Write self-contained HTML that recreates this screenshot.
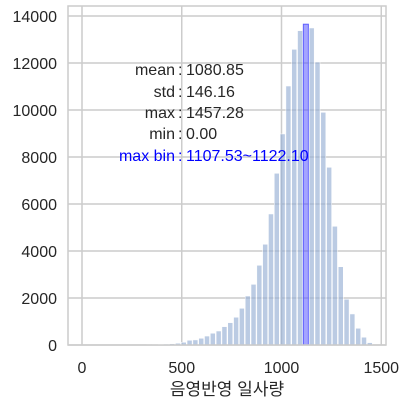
<!DOCTYPE html>
<html><head><meta charset="utf-8"><style>
html,body{margin:0;padding:0;background:#fff;}
svg text{font-family:"Liberation Sans","Noto Sans CJK KR",sans-serif;}
</style></head><body>
<svg id="chart" width="407" height="407" xmlns="http://www.w3.org/2000/svg"></svg>
<script>
const binWidth = 29.1456;
const counts = [1,1,2,2,3,3,4,5,6,8,10,14,20,30,40,55,75,115,200,215,285,380,500,595,780,950,1180,1560,2085,2580,3390,4285,5575,7305,8980,11020,12580,13375,13650,13490,12040,9900,7560,5050,3330,1945,1320,710,330,100];
const maxBinIndex = 38;
const xTicks = [0,500,1000,1500];
const yTicks = [0,2000,4000,6000,8000,10000,12000,14000];
const statLabels = ["mean","std","max","min","max bin"];
const statValues = ["1080.85","146.16","1457.28","0.00","1107.53~1122.10"];

const svg = document.getElementById('chart');
const NS = 'http://www.w3.org/2000/svg';
const L=68,R=386,T=6,B=345;
const xs = v => 82 + v*0.1995;
const ys = v => 345 - v*0.0235;
function mk(tag, attrs, parent){const e=document.createElementNS(NS,tag);for(const k in attrs)e.setAttribute(k,attrs[k]);(parent||svg).appendChild(e);return e;}

const grid = mk('g',{});


xTicks.forEach(t=>{
  const l=mk('line',{x1:xs(t),x2:xs(t),y1:T,y2:B,stroke:'#cccccc','stroke-width':1.5},grid);
  
  
  const tx=mk('text',{x:xs(t),y:373,'text-anchor':'middle','font-size':16,fill:'#262626'});
  
  
  tx.textContent=t;
});
yTicks.forEach(t=>{
  const l=mk('line',{x1:L,x2:R,y1:ys(t),y2:ys(t),stroke:'#cccccc','stroke-width':1.5},grid);
  
  
  const tx=mk('text',{x:57,y:ys(t)+6,'text-anchor':'end','font-size':16,fill:'#262626'});
  
  
  tx.textContent=t;
});

const bars = mk('g',{});


counts.forEach((c,i)=>{
  const x0=xs(i*binWidth), x1=xs((i+1)*binWidth);
  const hi = i===maxBinIndex;
  const r=mk('rect',{x:x0+0.4,y:ys(c),width:x1-x0-0.8,height:B-ys(c),
    fill: hi?'rgba(90,90,255,0.55)':'rgba(150,175,212,0.65)',
    stroke: hi?'#6060ff':'#ffffff','stroke-width': hi?1:0.5},bars);
  
  
});

const frame=mk('rect',{x:L,y:T,width:R-L,height:B-T,fill:'none',stroke:'#cccccc','stroke-width':1.5});



const baselines=[75,97,118,139,161];
statLabels.forEach((s,i)=>{
  const col = i===4?'#0000ff':'#262626';
  const t=mk('text',{x:180,y:baselines[i],'font-size':16,fill:col});
  
  
  const a=mk('tspan',{'text-anchor':'end',x:175},t); a.textContent=s;
  const c=mk('tspan',{x:178,'text-anchor':'start'},t); c.textContent=':';
  const b=mk('tspan',{x:186,'text-anchor':'start'},t); b.textContent=statValues[i];
});

const xl=mk('text',{x:227,y:395,'text-anchor':'middle','font-size':17,fill:'#262626'});


xl.textContent='음영반영 일사량';
</script>
</body></html>
